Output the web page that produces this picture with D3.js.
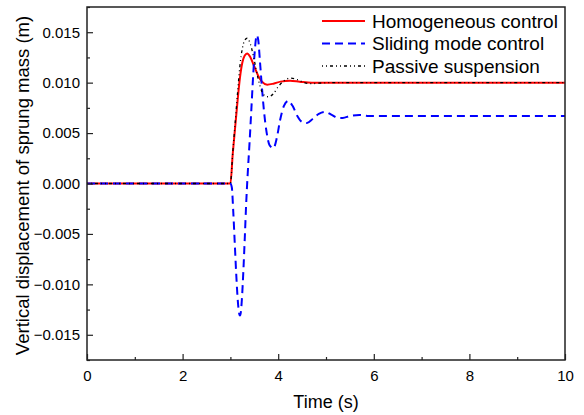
<!DOCTYPE html>
<html>
<head>
<meta charset="utf-8">
<script src="https://cdn.jsdelivr.net/npm/d3@7"></script>
<style>
  html, body { margin: 0; padding: 0; background: #fff; }
  #chart { width: 584px; height: 415px; }
  text { font-family: Arial, "Liberation Sans", sans-serif; fill: #000; }
</style>
</head>
<body>
<div id="chart"></div>
<script>
// Sprung mass displacement - three suspension controllers

// homogeneous control (red, solid)
const homT = [0, 3.0, 3.05, 3.10, 3.15, 3.20, 3.25, 3.30, 3.35, 3.42, 3.50, 3.58, 3.66, 3.77, 3.90, 4.05, 4.25, 4.45, 4.70, 5.0, 6.0, 10];
const homV = [0, 0, 0.0030, 0.0056, 0.0082, 0.0105, 0.0120, 0.0127, 0.0129, 0.0125, 0.0116, 0.0107, 0.0101, 0.0098, 0.0099, 0.0101, 0.0102, 0.0101, 0.0100, 0.0100, 0.0100, 0.0100];

// sliding mode control (blue, dashed)
const smcT = [0, 3.0, 3.03, 3.06, 3.09, 3.12, 3.15, 3.18, 3.20, 3.22, 3.24, 3.27, 3.30, 3.33, 3.36, 3.40, 3.44, 3.48, 3.52, 3.55, 3.58, 3.62, 3.66, 3.70, 3.76, 3.82, 3.90, 3.97, 4.04, 4.12, 4.21, 4.30, 4.40, 4.50, 4.60, 4.72, 4.85, 4.98, 5.12, 5.25, 5.35, 5.50, 5.70, 5.90, 6.5, 7, 8, 9, 10];
const smcV = [0, 0, -0.0004, -0.0028, -0.0058, -0.0088, -0.0113, -0.0128, -0.0131, -0.0127, -0.0115, -0.0088, -0.0055, -0.0020, 0.0008, 0.0040, 0.0075, 0.0110, 0.0137, 0.0147, 0.0143, 0.0120, 0.0095, 0.0073, 0.0050, 0.0038, 0.0035, 0.0045, 0.0063, 0.0077, 0.0082, 0.0077, 0.0067, 0.0061, 0.0060, 0.0064, 0.0069, 0.0071, 0.0068, 0.0065, 0.0065, 0.0067, 0.0068, 0.0067, 0.0067, 0.0067, 0.0067, 0.0067, 0.0067];

// passive suspension (black, dash-dot-dot)
const pasT = [0, 3.0, 3.05, 3.10, 3.15, 3.20, 3.25, 3.30, 3.35, 3.42, 3.50, 3.58, 3.66, 3.72, 3.80, 3.90, 4.0, 4.1, 4.25, 4.4, 4.55, 4.68, 4.85, 5.1, 5.5, 6.0, 10];
const pasV = [0, 0, 0.0031, 0.0060, 0.0090, 0.0117, 0.0134, 0.0142, 0.0144, 0.0138, 0.0122, 0.0104, 0.0091, 0.0087, 0.0086, 0.0089, 0.0096, 0.0101, 0.01045, 0.0103, 0.0100, 0.0099, 0.00995, 0.0100, 0.0100, 0.0100, 0.0100];

const xTicks = [0, 2, 4, 6, 8, 10];
const xMinor = [1, 3, 5, 7, 9];
const yTicks = [-0.015, -0.010, -0.005, 0, 0.005, 0.010, 0.015];
const yMinor = [-0.0175, -0.0125, -0.0075, -0.0025, 0.0025, 0.0075, 0.0125, 0.0175];

const seriesNames = ["Homogeneous control", "Sliding mode control", "Passive suspension"];

const width = 584, height = 415;
const margin = { top: 7, right: 19, bottom: 55, left: 87 };

const svg = d3.select("#chart")
  .append("svg")
  .attr("width", width)
  .attr("height", height);

const x = d3.scaleLinear()
  .domain([0, 10])
  .range([margin.left, width - margin.right]);

const y = d3.scaleLinear()
  .domain([-0.0175, 0.0175])
  .range([height - margin.bottom, margin.top]);

const series = [
  { name: seriesNames[0], t: homT, v: homV, color: "#ff0000", dash: null, w: 2 },
  { name: seriesNames[1], t: smcT, v: smcV, color: "#0000ff", dash: "8,5", w: 2 },
  { name: seriesNames[2], t: pasT, v: pasV, color: "#000000", dash: "1,3,1,3,3,3", w: 1.3 }
];

const line = d3.line()
  .x(d => x(d[0]))
  .y(d => y(d[1]))
  .curve(d3.curveMonotoneX);

svg.append("defs").append("clipPath")
  .attr("id", "clip")
  .append("rect")
  .attr("x", margin.left)
  .attr("y", margin.top)
  .attr("width", width - margin.left - margin.right)
  .attr("height", height - margin.top - margin.bottom);

svg.append("g")
  .attr("clip-path", "url(#clip)")
  .selectAll("path")
  .data(series)
  .enter()
  .append("path")
  .attr("fill", "none")
  .attr("stroke", d => d.color)
  .attr("stroke-width", d => d.w)
  .attr("stroke-dasharray", d => d.dash)
  .attr("d", d => line(d.t.map((t, i) => [t, d.v[i]])));

// bottom axis, ticks pointing in
const xAxis = svg.append("g")
  .attr("transform", `translate(0,${height - margin.bottom})`)
  .call(d3.axisBottom(x).tickValues(xTicks).tickSizeInner(-6).tickSizeOuter(0).tickPadding(10).tickFormat(d3.format("d")));
xAxis.selectAll(".tick text").style("font-size", "15px");
xAxis.select(".domain").remove();

svg.append("g")
  .attr("transform", `translate(0,${height - margin.bottom})`)
  .call(d3.axisBottom(x).tickValues(xMinor).tickSizeInner(-3).tickSizeOuter(0).tickFormat(""))
  .select(".domain").remove();

// left axis
const yAxis = svg.append("g")
  .attr("transform", `translate(${margin.left},0)`)
  .call(d3.axisLeft(y).tickValues(yTicks).tickSizeInner(-6).tickSizeOuter(0).tickPadding(7).tickFormat(d3.format(".3f")));
yAxis.selectAll(".tick text").style("font-size", "15px");
yAxis.select(".domain").remove();

svg.append("g")
  .attr("transform", `translate(${margin.left},0)`)
  .call(d3.axisLeft(y).tickValues(yMinor).tickSizeInner(-3).tickSizeOuter(0).tickFormat(""))
  .select(".domain").remove();

svg.selectAll(".tick line").attr("stroke", "#222").attr("stroke-width", 1.2);

// frame
svg.append("rect")
  .attr("x", margin.left)
  .attr("y", margin.top)
  .attr("width", width - margin.left - margin.right)
  .attr("height", height - margin.top - margin.bottom)
  .attr("fill", "none")
  .attr("stroke", "#222")
  .attr("stroke-width", 1.5);

// axis titles
svg.append("text")
  .attr("x", (margin.left + width - margin.right) / 2)
  .attr("y", 408)
  .attr("text-anchor", "middle")
  .style("font-size", "18px")
  .text("Time (s)");

svg.append("text")
  .attr("transform", `translate(29,${(margin.top + height - margin.bottom) / 2 + 2}) rotate(-90)`)
  .attr("text-anchor", "middle")
  .style("font-size", "18.5px")
  .text("Vertical displacement of sprung mass (m)");

// legend
const legend = svg.append("g").attr("transform", "translate(322,21)");
const rows = legend.selectAll("g")
  .data(series)
  .enter()
  .append("g")
  .attr("transform", (_, i) => `translate(0,${i * 22.5})`);

rows.append("line")
  .attr("x1", 0).attr("x2", 43)
  .attr("y1", 0).attr("y2", 0)
  .attr("stroke", d => d.color)
  .attr("stroke-width", d => d.w)
  .attr("stroke-dasharray", d => d.dash);

rows.append("text")
  .attr("x", 50)
  .attr("y", 0)
  .attr("dy", "0.35em")
  .style("font-size", "19px")
  .text(d => d.name);
</script>
</body>
</html>
